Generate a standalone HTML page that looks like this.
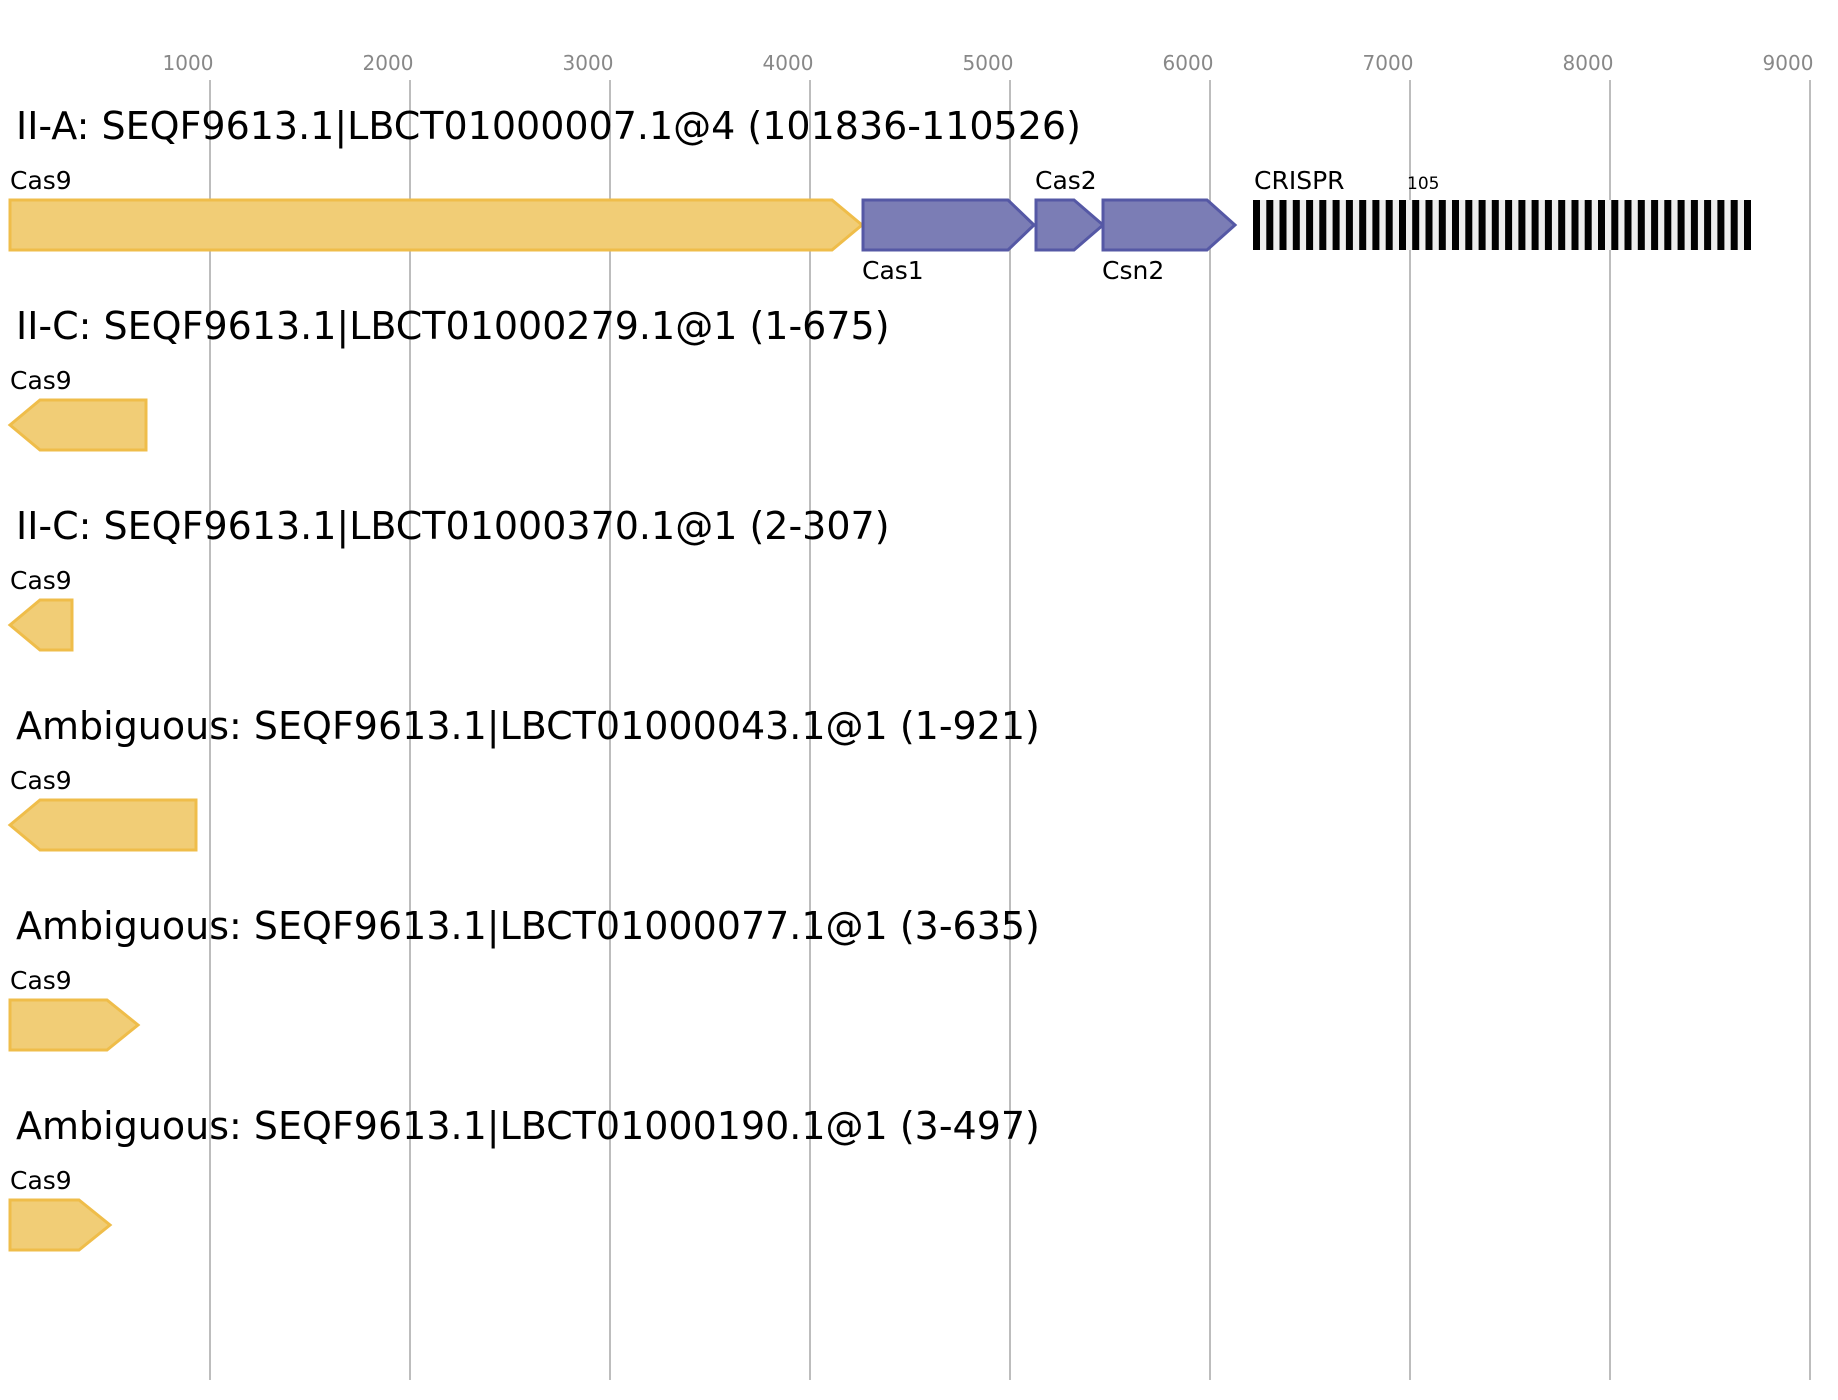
<!DOCTYPE html>
<html><head><meta charset="utf-8"><style>body{margin:0;background:#fff}svg{display:block}text{font-family:"DejaVu Sans","Liberation Sans",sans-serif}</style></head>
<body>
<svg width="1838" height="1400" xmlns="http://www.w3.org/2000/svg">
<g stroke="#bdbdbd" stroke-width="2">
<line x1="210" y1="80" x2="210" y2="1380"/><line x1="410" y1="80" x2="410" y2="1380"/><line x1="610" y1="80" x2="610" y2="1380"/><line x1="810" y1="80" x2="810" y2="1380"/><line x1="1010" y1="80" x2="1010" y2="1380"/><line x1="1210" y1="80" x2="1210" y2="1380"/><line x1="1410" y1="80" x2="1410" y2="1380"/><line x1="1610" y1="80" x2="1610" y2="1380"/><line x1="1810" y1="80" x2="1810" y2="1380"/>
</g>
<g fill="#888" font-size="20" text-anchor="middle">
<text x="188" y="70">1000</text><text x="388" y="70">2000</text><text x="588" y="70">3000</text><text x="788" y="70">4000</text><text x="988" y="70">5000</text><text x="1188" y="70">6000</text><text x="1388" y="70">7000</text><text x="1588" y="70">8000</text><text x="1788" y="70">9000</text>
</g>
<g font-size="38" fill="#000">
<text x="16" y="139">II-A: SEQF9613.1|LBCT01000007.1@4 (101836-110526)</text>
<text x="16" y="339">II-C: SEQF9613.1|LBCT01000279.1@1 (1-675)</text>
<text x="16" y="539">II-C: SEQF9613.1|LBCT01000370.1@1 (2-307)</text>
<text x="16" y="739">Ambiguous: SEQF9613.1|LBCT01000043.1@1 (1-921)</text>
<text x="16" y="939">Ambiguous: SEQF9613.1|LBCT01000077.1@1 (3-635)</text>
<text x="16" y="1139">Ambiguous: SEQF9613.1|LBCT01000190.1@1 (3-497)</text>
</g>
<g font-size="25" fill="#000">
<text x="10" y="189">Cas9</text><text x="10" y="389">Cas9</text><text x="10" y="589">Cas9</text><text x="10" y="789">Cas9</text><text x="10" y="989">Cas9</text><text x="10" y="1189">Cas9</text>
<text x="862" y="279">Cas1</text><text x="1035" y="189">Cas2</text><text x="1102" y="279">Csn2</text><text x="1254" y="189">CRISPR</text>
<text x="1407" y="189" font-size="17">105</text>
</g>
<g fill="#f1cd76" stroke="#efbd4a" stroke-width="3">
<polygon points="10,200 832,200 862,225 832,250 10,250"/>
<polygon points="10,425 40,400 146,400 146,450 40,450"/>
<polygon points="10,625 40,600 72,600 72,650 40,650"/>
<polygon points="10,825 40,800 196,800 196,850 40,850"/>
<polygon points="10,1000 107,1000 138,1025 107,1050 10,1050"/>
<polygon points="10,1200 79,1200 110,1225 79,1250 10,1250"/>
</g>
<g fill="#7b7db5" stroke="#5558a5" stroke-width="3">
<polygon points="863,200 1008,200 1034,225 1008,250 863,250"/>
<polygon points="1036,200 1074,200 1103,225 1074,250 1036,250"/>
<polygon points="1103,200 1207,200 1235,225 1207,250 1103,250"/>
</g>
<g transform="translate(-4,0)">
<rect x="1257" y="200" width="498" height="50" fill="#eee"/>
<path stroke="#000" stroke-width="7" d="M1260.5 200v50M1273.8 200v50M1287.0 200v50M1300.3 200v50M1313.6 200v50M1326.8 200v50M1340.1 200v50M1353.4 200v50M1366.7 200v50M1379.9 200v50M1393.2 200v50M1406.5 200v50M1419.7 200v50M1433.0 200v50M1446.3 200v50M1459.5 200v50M1472.8 200v50M1486.1 200v50M1499.3 200v50M1512.6 200v50M1525.9 200v50M1539.1 200v50M1552.4 200v50M1565.7 200v50M1579.0 200v50M1592.2 200v50M1605.5 200v50M1618.8 200v50M1632.0 200v50M1645.3 200v50M1658.6 200v50M1671.8 200v50M1685.1 200v50M1698.4 200v50M1711.6 200v50M1724.9 200v50M1738.2 200v50M1751.5 200v50"/>
</g>
</svg>
</body></html>
